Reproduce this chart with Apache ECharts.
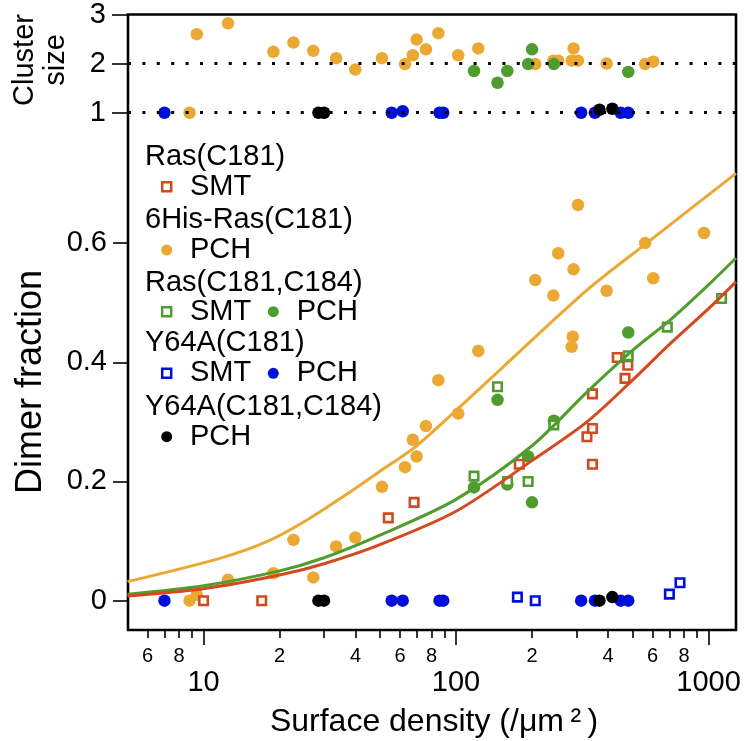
<!DOCTYPE html>
<html><head><meta charset="utf-8">
<script src="https://cdn.jsdelivr.net/npm/echarts@6/dist/echarts.min.js"></script>
<style>html,body{margin:0;padding:0;background:#fff}#c{width:745px;height:741px}</style>
</head><body><div id="c"></div>
<script>
// ---------- axis ticks / labels ----------
const xMinorTicks = [5,6,7,8,9,20,30,40,50,60,70,80,90,200,300,400,500,600,700,800,900];
const xMinorLabels = [6,8,20,40,60,80,200,400,600,800];
const xMajorTicks = [10,100,1000];
const yTicksDimer = [0,0.2,0.4,0.6];
const yTicksCluster = [1,2,3];
const clusterRefLevels = [1,2];

// ---------- dimer fraction (bottom panel) ----------
const rasC181_SMT = [[10.0,0],[17.0,0],[53.9,0.139],[68.2,0.165],[178,0.229],[330,0.275],[347,0.289],[347,0.229],[347,0.347],[435,0.408],[467,0.373],[479,0.395]];
const his6Ras_PCH = [[8.8,0],[9.4,0.01],[12.5,0.035],[18.9,0.046],[22.7,0.102],[27.2,0.039],[33.5,0.091],[39.9,0.106],[50.9,0.191],[62.8,0.224],[67.4,0.27],[69.8,0.242],[76,0.293],[85.1,0.37],[102,0.314],[122.5,0.419],[206,0.538],[243,0.512],[254,0.583],[287,0.426],[290,0.443],[292,0.556],[304,0.664],[395,0.52],[561,0.6],[604,0.541],[960,0.617]];
const rasC181C184_SMT = [[117.8,0.209],[146,0.359],[160,0.2],[193,0.2],[244,0.295],[481,0.411],[687,0.459],[1127,0.507]];
const rasC181C184_PCH = [[117.8,0.19],[146,0.337],[159.6,0.195],[193,0.242],[200,0.165],[244,0.302],[481,0.45]];
const y64aC181_SMT = [[175,0.006],[206,0],[700,0.011],[771,0.03]];
const y64aC181_PCH = [[7.0,0],[55.6,0],[61.5,0],[86,0],[89,0],[313,0],[355,0],[449,0],[481,0]];
const y64aC181C184_PCH = [[28.5,0],[30.0,0],[370,0],[416,0.006]];

// ---------- fitted curves ----------
const fitOrange = [[5.0,0.032],[11.6,0.071],[17.8,0.099],[25.6,0.135],[39.2,0.186],[53.2,0.225],[70,0.26],[149,0.387],[330,0.521],[569,0.6],[1285,0.717]];
const fitGreen = [[5,0.011],[10,0.025],[20,0.05],[30,0.072],[50,0.11],[100,0.17],[200,0.26],[330,0.35],[500,0.42],[700,0.47],[1000,0.53],[1285,0.575]];
const fitRed = [[5,0.008],[10,0.02],[20,0.043],[30,0.062],[50,0.094],[100,0.15],[200,0.235],[330,0.30],[500,0.37],[700,0.43],[1000,0.49],[1285,0.535]];

// ---------- cluster size (top panel) ----------
const clusterOrange = [[8.8,1.0],[9.4,2.6],[12.5,2.82],[18.9,2.24],[22.7,2.43],[27.2,2.26],[33.5,2.11],[39.9,1.88],[50.9,2.11],[62.8,1.99],[67.4,2.17],[69.8,2.49],[76,2.29],[85.1,2.62],[102,2.17],[122.5,2.31],[206,1.99],[243,2.06],[254,2.06],[287,2.06],[292,2.31],[304,2.06],[395,2.0],[561,1.99],[604,2.04]];
const clusterGreen = [[117.8,1.85],[146,1.61],[159.6,1.85],[193,1.99],[200,2.29],[244,1.99],[481,1.83]];
const clusterBlue = [[7.0,1],[55.6,1],[61.5,1.03],[86,1],[89,1],[313,1],[355,1],[449,1],[481,1]];
const clusterBlack = [[28.5,1],[30,1],[370,1.06],[416,1.08]];

// ---------- styling ----------
const FONT = '"Liberation Sans", Arial, Helvetica, sans-serif';
const C_RED = '#D24A1E', C_ORANGE = '#EBA832', C_GREEN = '#4F9D2F', C_BLUE = '#0010D9', C_BLACK = '#000000';
const X_MIN = 5.02, X_MAX = 1285;
const DOT = 12.5, SQ = 8.5;

function leadDigit(v){ const p = Math.pow(10, Math.floor(Math.log10(v) + 1e-9)); return String(Math.round(v / p)); }

function dots(data, color, xi, yi, z){
  return {type:'scatter', xAxisIndex:xi, yAxisIndex:yi, data:data, symbol:'circle', symbolSize:DOT,
          itemStyle:{color:color, opacity:1}, z:z||3, silent:true};
}
function squares(data, color, z){
  return {type:'scatter', xAxisIndex:0, yAxisIndex:0, data:data, symbol:'rect', symbolSize:SQ,
          itemStyle:{color:'#fff', borderColor:color, borderWidth:2.6, opacity:1}, z:z||4, silent:true};
}
function fit(data, color){
  return {type:'line', xAxisIndex:0, yAxisIndex:0, data:data, showSymbol:false, smooth:0.3,
          lineStyle:{color:color, width:3}, z:5, silent:true};
}

const chart = echarts.init(document.getElementById('c'));

// legend drawn as graphic elements
const LX = 145, MX = 166.7, TX = 190, MX2 = 273.3, TX2 = 296.7;
const legendRows = [
  {y:156.7, head:'Ras(C181)'},
  {y:186.7, items:[{m:'sq', c:C_RED, t:'SMT'}]},
  {y:220, head:'6His-Ras(C181)'},
  {y:250, items:[{m:'ci', c:C_ORANGE, t:'PCH'}]},
  {y:283.3, head:'Ras(C181,C184)'},
  {y:311.7, items:[{m:'sq', c:C_GREEN, t:'SMT'},{m:'ci', c:C_GREEN, t:'PCH'}]},
  {y:343.3, head:'Y64A(C181)'},
  {y:373.3, items:[{m:'sq', c:C_BLUE, t:'SMT'},{m:'ci', c:C_BLUE, t:'PCH'}]},
  {y:406.7, head:'Y64A(C181,C184)'},
  {y:436.7, items:[{m:'ci', c:C_BLACK, t:'PCH'}]}
];
const graphics = [];
legendRows.forEach(r => {
  if (r.head) {
    graphics.push({type:'text', x:LX, y:r.y, style:{text:r.head, font:'29px ' + FONT, fill:'#000', verticalAlign:'middle', align:'left'}});
  } else {
    r.items.forEach((it, i) => {
      const mx = i === 0 ? MX : MX2, tx = i === 0 ? TX : TX2;
      if (it.m === 'sq') graphics.push({type:'rect', shape:{x:mx-4.5, y:r.y-4.5, width:9, height:9}, style:{fill:'#fff', stroke:it.c, lineWidth:2.5}});
      else graphics.push({type:'circle', shape:{cx:mx, cy:r.y, r:5.5}, style:{fill:it.c}});
      graphics.push({type:'text', x:tx, y:r.y, style:{text:it.t, font:'29px ' + FONT, fill:'#000', verticalAlign:'middle', align:'left'}});
    });
  }
});
// axis titles
graphics.push({type:'text', x:434, y:722, style:{text:'Surface density (/μm\u2009²\u2009)', font:'32px ' + FONT, fill:'#000', align:'center', verticalAlign:'middle'}});
graphics.push({type:'text', x:31, y:382, rotation:Math.PI/2, style:{text:'Dimer fraction', font:'36px ' + FONT, fill:'#000', align:'center', verticalAlign:'middle'}});
graphics.push({type:'text', x:40, y:60, rotation:Math.PI/2, style:{text:'Cluster\nsize', font:'29px ' + FONT, lineHeight:31, fill:'#000', align:'center', verticalAlign:'middle'}});

const tickLine = {color:'#000', width:1.6};
const option = {
  animation:false,
  backgroundColor:'#fff',
  textStyle:{fontFamily:FONT},
  grid:[
    {left:128, right:9, top:14.5, bottom:111, show:true, borderColor:'#000', borderWidth:2.6, backgroundColor:'transparent', containLabel:false, outerBoundsMode:'none'},
    {left:128, right:9, top:14.5, height:115.5, containLabel:false, outerBoundsMode:'none'}
  ],
  xAxis:[
    {gridIndex:0, type:'log', position:'bottom', min:X_MIN, max:X_MAX, axisLine:{show:false, onZero:false}, splitLine:{show:false}, minorTick:{show:false},
     axisTick:{show:true, customValues:xMinorTicks, length:8, lineStyle:tickLine},
     axisLabel:{show:true, customValues:xMinorLabels, formatter:leadDigit, fontSize:20, color:'#000', margin:16, fontFamily:FONT}},
    {gridIndex:0, type:'log', position:'bottom', min:X_MIN, max:X_MAX, axisLine:{show:false, onZero:false}, splitLine:{show:false},
     axisTick:{show:true, customValues:xMajorTicks, length:15, lineStyle:tickLine},
     axisLabel:{show:true, customValues:xMajorTicks, formatter:v => String(Math.round(v)), fontSize:29, color:'#000', margin:38, fontFamily:FONT}},
    {gridIndex:1, type:'log', position:'bottom', min:X_MIN, max:X_MAX, show:false, axisLine:{onZero:false}}
  ],
  yAxis:[
    {gridIndex:0, type:'value', position:'left', min:-0.0492, max:0.9836, axisLine:{show:false, onZero:false}, splitLine:{show:false},
     axisTick:{show:true, customValues:yTicksDimer, length:15, lineStyle:tickLine},
     axisLabel:{show:true, customValues:yTicksDimer, formatter:v => v === 0 ? '0' : v.toFixed(1), fontSize:29, color:'#000', margin:21, fontFamily:FONT}},
    {gridIndex:1, type:'value', position:'left', min:0.648, max:3, axisLine:{show:false, onZero:false}, splitLine:{show:false},
     axisTick:{show:true, customValues:yTicksCluster, length:16, lineStyle:tickLine},
     axisLabel:{show:true, customValues:yTicksCluster, formatter:v => String(v), fontSize:29, color:'#000', margin:22, fontFamily:FONT}}
  ],
  graphic:graphics,
  series:[
    {type:'line', xAxisIndex:2, yAxisIndex:1, data:[], silent:true,
     markLine:{silent:true, symbol:['none','none'], label:{show:false},
       lineStyle:{color:'#000', width:3, type:[3,11.4], cap:'butt'},
       data:clusterRefLevels.map(v => ({yAxis:v}))}},
    dots(clusterOrange, C_ORANGE, 2, 1, 3),
    dots(clusterGreen, C_GREEN, 2, 1, 3),
    dots(clusterBlue, C_BLUE, 2, 1, 3),
    dots(clusterBlack, C_BLACK, 2, 1, 4),
    dots(his6Ras_PCH, C_ORANGE, 0, 0, 3),
    dots(rasC181C184_PCH, C_GREEN, 0, 0, 3),
    dots(y64aC181_PCH, C_BLUE, 0, 0, 3),
    dots(y64aC181C184_PCH, C_BLACK, 0, 0, 4),
    squares(rasC181_SMT, C_RED),
    squares(rasC181C184_SMT, C_GREEN),
    squares(y64aC181_SMT, C_BLUE),
    fit(fitOrange, C_ORANGE),
    fit(fitGreen, C_GREEN),
    fit(fitRed, C_RED)
  ]
};
chart.setOption(option);
</script></body></html>
